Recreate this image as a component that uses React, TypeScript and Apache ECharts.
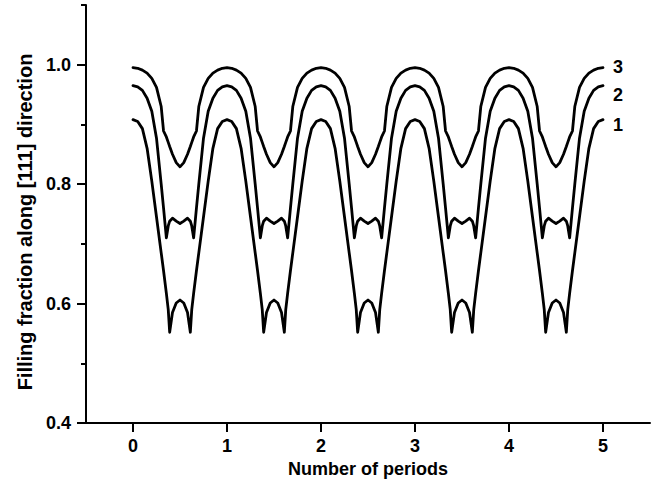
import React, { useEffect, useRef } from "react";
import * as echarts from "echarts";

// Number of periods (x positions of the sampled points)
const periods: number[] = [
  0, 0.05, 0.1, 0.15, 0.2, 0.25, 0.3, 0.325, 0.355, 0.375, 0.39, 0.42, 0.46, 0.5, 0.54, 0.58, 0.61, 0.625, 0.645, 0.675, 0.7, 0.75, 0.8, 0.85, 0.9, 0.95,
  1, 1.05, 1.1, 1.15, 1.2, 1.25, 1.3, 1.325, 1.355, 1.375, 1.39, 1.42, 1.46, 1.5, 1.54, 1.58, 1.61, 1.625, 1.645, 1.675, 1.7, 1.75, 1.8, 1.85, 1.9, 1.95,
  2, 2.05, 2.1, 2.15, 2.2, 2.25, 2.3, 2.325, 2.355, 2.375, 2.39, 2.42, 2.46, 2.5, 2.54, 2.58, 2.61, 2.625, 2.645, 2.675, 2.7, 2.75, 2.8, 2.85, 2.9, 2.95,
  3, 3.05, 3.1, 3.15, 3.2, 3.25, 3.3, 3.325, 3.355, 3.375, 3.39, 3.42, 3.46, 3.5, 3.54, 3.58, 3.61, 3.625, 3.645, 3.675, 3.7, 3.75, 3.8, 3.85, 3.9, 3.95,
  4, 4.05, 4.1, 4.15, 4.2, 4.25, 4.3, 4.325, 4.355, 4.375, 4.39, 4.42, 4.46, 4.5, 4.54, 4.58, 4.61, 4.625, 4.645, 4.675, 4.7, 4.75, 4.8, 4.85, 4.9, 4.95,
  5,
];

// Curve 3 (top)
const curve3: number[] = [
  0.995, 0.994, 0.991, 0.986, 0.977, 0.962, 0.93, 0.889, 0.879, 0.87, 0.863, 0.85, 0.836, 0.829, 0.836, 0.85, 0.863, 0.87, 0.879, 0.889, 0.93, 0.962, 0.977, 0.986, 0.991, 0.994,
  0.995, 0.994, 0.991, 0.986, 0.977, 0.962, 0.93, 0.889, 0.879, 0.87, 0.863, 0.85, 0.836, 0.829, 0.836, 0.85, 0.863, 0.87, 0.879, 0.889, 0.93, 0.962, 0.977, 0.986, 0.991, 0.994,
  0.995, 0.994, 0.991, 0.986, 0.977, 0.962, 0.93, 0.889, 0.879, 0.87, 0.863, 0.85, 0.836, 0.829, 0.836, 0.85, 0.863, 0.87, 0.879, 0.889, 0.93, 0.962, 0.977, 0.986, 0.991, 0.994,
  0.995, 0.994, 0.991, 0.986, 0.977, 0.962, 0.93, 0.889, 0.879, 0.87, 0.863, 0.85, 0.836, 0.829, 0.836, 0.85, 0.863, 0.87, 0.879, 0.889, 0.93, 0.962, 0.977, 0.986, 0.991, 0.994,
  0.995, 0.994, 0.991, 0.986, 0.977, 0.962, 0.93, 0.889, 0.879, 0.87, 0.863, 0.85, 0.836, 0.829, 0.836, 0.85, 0.863, 0.87, 0.879, 0.889, 0.93, 0.962, 0.977, 0.986, 0.991, 0.994,
  0.995,
];

// Curve 2 (middle)
const curve2: number[] = [
  0.965, 0.963, 0.957, 0.944, 0.922, 0.877, 0.8, 0.76, 0.71, 0.73, 0.738, 0.743, 0.738, 0.734, 0.738, 0.743, 0.738, 0.73, 0.71, 0.76, 0.8, 0.877, 0.922, 0.944, 0.957, 0.963,
  0.965, 0.963, 0.957, 0.944, 0.922, 0.877, 0.8, 0.76, 0.71, 0.73, 0.738, 0.743, 0.738, 0.734, 0.738, 0.743, 0.738, 0.73, 0.71, 0.76, 0.8, 0.877, 0.922, 0.944, 0.957, 0.963,
  0.965, 0.963, 0.957, 0.944, 0.922, 0.877, 0.8, 0.76, 0.71, 0.73, 0.738, 0.743, 0.738, 0.734, 0.738, 0.743, 0.738, 0.73, 0.71, 0.76, 0.8, 0.877, 0.922, 0.944, 0.957, 0.963,
  0.965, 0.963, 0.957, 0.944, 0.922, 0.877, 0.8, 0.76, 0.71, 0.73, 0.738, 0.743, 0.738, 0.734, 0.738, 0.743, 0.738, 0.73, 0.71, 0.76, 0.8, 0.877, 0.922, 0.944, 0.957, 0.963,
  0.965, 0.963, 0.957, 0.944, 0.922, 0.877, 0.8, 0.76, 0.71, 0.73, 0.738, 0.743, 0.738, 0.734, 0.738, 0.743, 0.738, 0.73, 0.71, 0.76, 0.8, 0.877, 0.922, 0.944, 0.957, 0.963,
  0.965,
];

// Curve 1 (bottom)
const curve1: number[] = [
  0.908, 0.905, 0.893, 0.86, 0.805, 0.745, 0.685, 0.655, 0.617, 0.59, 0.552, 0.585, 0.601, 0.606, 0.601, 0.585, 0.552, 0.59, 0.617, 0.655, 0.685, 0.745, 0.805, 0.86, 0.893, 0.905,
  0.908, 0.905, 0.893, 0.86, 0.805, 0.745, 0.685, 0.655, 0.617, 0.59, 0.552, 0.585, 0.601, 0.606, 0.601, 0.585, 0.552, 0.59, 0.617, 0.655, 0.685, 0.745, 0.805, 0.86, 0.893, 0.905,
  0.908, 0.905, 0.893, 0.86, 0.805, 0.745, 0.685, 0.655, 0.617, 0.59, 0.552, 0.585, 0.601, 0.606, 0.601, 0.585, 0.552, 0.59, 0.617, 0.655, 0.685, 0.745, 0.805, 0.86, 0.893, 0.905,
  0.908, 0.905, 0.893, 0.86, 0.805, 0.745, 0.685, 0.655, 0.617, 0.59, 0.552, 0.585, 0.601, 0.606, 0.601, 0.585, 0.552, 0.59, 0.617, 0.655, 0.685, 0.745, 0.805, 0.86, 0.893, 0.905,
  0.908, 0.905, 0.893, 0.86, 0.805, 0.745, 0.685, 0.655, 0.617, 0.59, 0.552, 0.585, 0.601, 0.606, 0.601, 0.585, 0.552, 0.59, 0.617, 0.655, 0.685, 0.745, 0.805, 0.86, 0.893, 0.905,
  0.908,
];

const curveNames = ["3", "2", "1"];
const xTicks = [0, 1, 2, 3, 4, 5];
const yMajorTicks = [0.4, 0.6, 0.8, 1.0];
const yMinorTicks = [0.5, 0.7, 0.9, 1.1];

const FONT = '"Liberation Sans", Arial, Helvetica, sans-serif';

export default function App() {
  const ref = useRef<HTMLDivElement>(null);

  useEffect(() => {
    if (!ref.current) return;
    const chart = echarts.init(ref.current, undefined, { renderer: "svg" });

    const curves = [curve3, curve2, curve1];
    const labelOffsets = [[0, -1], [0, 9], [0, 5]];

    const series = curves.map((c, k) => ({
      type: "line",
      name: curveNames[k],
      data: periods.map((x, i) => [x, c[i]]),
      showSymbol: false,
      symbol: "none",
      smooth: false,
      xAxisIndex: 0,
      yAxisIndex: 0,
      lineStyle: { color: "#000", width: 2.8, join: "round", cap: "round" },
      endLabel: {
        show: true,
        formatter: curveNames[k],
        color: "#000",
        fontFamily: FONT,
        fontWeight: "bold",
        fontSize: 18,
        distance: 10,
        offset: labelOffsets[k],
      },
      emphasis: { disabled: true },
    }));

    chart.setOption({
      animation: false,
      backgroundColor: "#fff",
      grid: { left: 86, right: 9, top: 5, bottom: 64, containLabel: false },
      xAxis: {
        type: "value",
        min: -0.5,
        max: 5.5,
        name: "Number of periods",
        nameLocation: "middle",
        nameGap: 35,
        nameTextStyle: { color: "#000", fontFamily: FONT, fontWeight: "bold", fontSize: 18 },
        axisLine: { show: true, onZero: false, lineStyle: { color: "#000", width: 2 } },
        axisTick: { show: true, inside: false, length: 9, customValues: xTicks, lineStyle: { color: "#000", width: 2 } },
        axisLabel: {
          show: true,
          customValues: xTicks,
          margin: 14,
          color: "#000",
          fontFamily: FONT,
          fontWeight: "bold",
          fontSize: 18,
          formatter: (v: number) => String(v),
        },
        splitLine: { show: false },
      },
      yAxis: [
        {
          type: "value",
          min: 0.4,
          max: 1.1,
          position: "left",
          axisLine: { show: true, onZero: false, lineStyle: { color: "#000", width: 2 } },
          axisTick: { show: true, inside: false, length: 9, customValues: yMajorTicks, lineStyle: { color: "#000", width: 2 } },
          axisLabel: {
            show: true,
            customValues: yMajorTicks,
            margin: 15,
            color: "#000",
            fontFamily: FONT,
            fontWeight: "bold",
            fontSize: 18,
            formatter: (v: number) => v.toFixed(1),
          },
          splitLine: { show: false },
        },
        {
          type: "value",
          min: 0.4,
          max: 1.1,
          position: "left",
          axisLine: { show: false, onZero: false },
          axisTick: { show: true, inside: false, length: 5, customValues: yMinorTicks, lineStyle: { color: "#000", width: 2 } },
          axisLabel: { show: false },
          splitLine: { show: false },
        },
      ],
      graphic: [
        {
          type: "text",
          x: 25,
          y: 222,
          rotation: Math.PI / 2,
          style: {
            text: "Filling fraction along [111] direction",
            font: `bold 20px ${FONT}`,
            fill: "#000",
            textAlign: "center",
            textVerticalAlign: "middle",
          },
        },
      ],
      series,
    });

    return () => chart.dispose();
  }, []);

  return (
    <div
      ref={ref}
      style={{ position: "fixed", left: 0, top: 0, width: 659, height: 487, background: "#fff" }}
    />
  );
}
